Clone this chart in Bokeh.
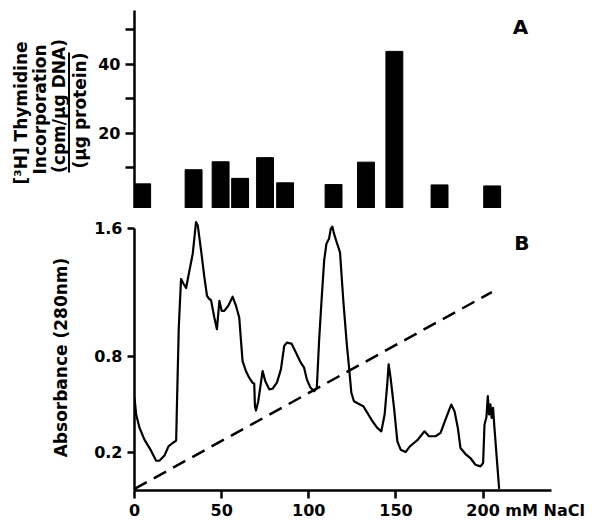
import math
from bokeh.plotting import figure
from bokeh.models import Range1d, FixedTicker, Label
from bokeh.layouts import column, row
from bokeh.core.properties import value
from bokeh.embed import file_html
from bokeh.resources import INLINE

FONT = "DejaVu Sans"

# ---- Panel A: [3H] thymidine incorporation per fraction ----
frac_nacl = [4.4, 33.9, 49.4, 60.6, 74.9, 86.4, 114.2, 132.8, 149.1, 175.0, 205.2]
thymidine = [5.4, 9.5, 11.8, 7.0, 13.0, 5.7, 5.2, 11.7, 43.8, 5.1, 4.8]
a_major_ticks = [20, 40]
a_minor_ticks = [10, 30, 50]

# ---- Panel B: absorbance (280 nm) elution profile ----
nacl_mm = [0, 0.95, 2.9, 5.7, 9.5, 12.4, 14.3, 17.2, 19.5, 21.9, 23.9, 24.4, 25.4, 26.7,
           28.2, 29.6, 31.5, 33.4, 35.3, 36.3, 38.2, 40.1, 41.6, 42.9, 43.9, 45.8, 47.3,
           48.7, 50.0, 51.5, 53.8, 56.3, 58.2, 60.1, 61.1, 62.0, 63.9, 65.8, 67.7, 68.7,
           69.1, 69.7, 71.0, 73.5, 75.0, 77.3, 79.2, 81.7, 84.0, 85.9, 87.4, 90.1, 92.6,
           95.4, 97.3, 98.9, 100.8, 103.1, 104.6, 105.9, 107.3, 108.8, 110.1, 111.6, 112.6,
           113.5, 114.5, 116.0, 117.9, 119.8, 121.8, 123.1, 124.4, 125.9, 128.2, 131.3,
           133.6, 136.5, 139.3, 141.6, 143.5, 145.0, 145.8, 146.9, 148.9, 150.8, 152.7,
           155.5, 158.0, 160.3, 162.6, 164.1, 166.4, 168.9, 172.7, 175.6, 178.4, 181.7,
           183.6, 185.5, 187.0, 189.9, 192.7, 195.6, 198.5, 200.0, 200.8, 201.9, 202.7,
           203.4, 204.2, 204.9, 205.7, 206.5, 209.2]
absorbance = [0.54, 0.435, 0.351, 0.278, 0.209, 0.146, 0.146, 0.179, 0.236, 0.257, 0.272,
              0.518, 0.979, 1.282, 1.251, 1.226, 1.334, 1.439, 1.638, 1.617, 1.460, 1.292,
              1.177, 1.157, 1.150, 1.041, 0.968, 1.146, 1.083, 1.083, 1.115, 1.171, 1.115,
              1.041, 0.895, 0.769, 0.707, 0.665, 0.634, 0.627, 0.487, 0.460, 0.518, 0.707,
              0.644, 0.592, 0.596, 0.634, 0.717, 0.864, 0.884, 0.878, 0.822, 0.759,
              0.728, 0.654, 0.606, 0.581, 0.602, 0.895, 1.146, 1.397, 1.502, 1.533, 1.596,
              1.610, 1.564, 1.512, 1.449, 1.146, 0.874, 0.728, 0.571, 0.518, 0.504, 0.487,
              0.445, 0.393, 0.351, 0.330, 0.435, 0.623, 0.749, 0.665, 0.477, 0.267, 0.215,
              0.200, 0.236, 0.257, 0.278, 0.299, 0.330, 0.299, 0.299, 0.320, 0.403, 0.497,
              0.456, 0.351, 0.226, 0.188, 0.163, 0.121, 0.111, 0.132, 0.372, 0.418, 0.550,
              0.435, 0.498, 0.414, 0.477, 0.351, -0.030]
gradient_nacl = [0, 205]
gradient_level = [-0.03, 1.2]
b_yticks = [0.2, 0.8, 1.6]
b_xticks = [0, 50, 100, 150, 200]
x_unit_text = "mM NaCl"

# ---- texts of the left margin ----
a_ylabel_lines = ["[³H] Thymidine", "Incorporation", "(cpm/µg DNA)", "(µg protein)"]
b_ylabel = "Absorbance (280nm)"

X_END = 244.4
BAR_BASE = -1.74
UNIT_LABEL_POS = 224.4   # where the "200 mM NaCl" label is centred


def style_axis(ax, tick_out, standoff):
    ax.axis_line_width = 2.5
    ax.axis_line_color = "black"
    ax.major_tick_line_width = 2.5
    ax.minor_tick_line_width = 2.5
    ax.major_tick_line_color = "black"
    ax.minor_tick_line_color = "black"
    ax.major_tick_in = 0
    ax.minor_tick_in = 0
    ax.major_tick_out = tick_out
    ax.minor_tick_out = tick_out
    ax.major_label_text_font = FONT
    ax.major_label_text_font_style = "bold"
    ax.major_label_text_font_size = "16px"
    ax.major_label_text_color = "black"
    ax.major_label_standoff = standoff


def bare(fig):
    fig.grid.visible = False
    fig.outline_line_color = None
    fig.background_fill_color = "white"
    fig.border_fill_color = "white"


# ---------------- left text column ----------------
HL_W, HL_H = 91, 522
helper = figure(width=HL_W, height=HL_H, x_range=Range1d(0, HL_W), y_range=Range1d(0, HL_H),
                output_backend="svg", toolbar_location=None, x_axis_location=None,
                y_axis_location=None, title_location=None, min_border=0)
bare(helper)
helper.text(x=[20, 39, 58, 79], y=[HL_H - 112.5, HL_H - 109, HL_H - 105.5, HL_H - 110],
            text=a_ylabel_lines, angle=math.pi / 2, text_align="center", text_baseline="middle",
            text_font=value(FONT), text_font_style="bold", text_font_size="17px", text_color="black")
helper.segment(x0=[68.5], y0=[HL_H - 52], x1=[68.5], y1=[HL_H - 172], line_width=2, color="black")
helper.text(x=[60], y=[HL_H - 357], text=[b_ylabel], angle=math.pi / 2, text_align="center",
            text_baseline="middle", text_font=value(FONT), text_font_style="bold",
            text_font_size="17px", text_color="black")

# ---------------- top panel ----------------
p1 = figure(width=509, height=208, x_range=Range1d(0, X_END), y_range=Range1d(BAR_BASE, 55.65),
            output_backend="svg", toolbar_location=None, x_axis_location=None, title_location=None,
            min_border_left=42, min_border_right=40, min_border_top=10, min_border_bottom=0)
bare(p1)
p1.vbar(x=frac_nacl, top=thymidine, bottom=BAR_BASE, width=9.7, color="black")
p1.yaxis.ticker = FixedTicker(ticks=a_major_ticks, minor_ticks=a_minor_ticks)
style_axis(p1.yaxis[0], 9, 5)
p1.add_layout(Label(x=221.4, y=51.0, text="A", text_align="center", text_baseline="middle",
                    text_font=FONT, text_font_style="bold", text_font_size="20px",
                    text_color="black"))

# ---------------- bottom panel ----------------
p2 = figure(width=509, height=314, x_range=Range1d(0, X_END), y_range=Range1d(-0.040, 1.679),
            output_backend="svg", toolbar_location=None, title_location=None,
            min_border_left=42, min_border_right=40, min_border_top=7, min_border_bottom=32)
bare(p2)
p2.line(nacl_mm, absorbance, line_width=2.2, color="black", line_join="round")
p2.line(gradient_nacl, gradient_level, line_width=2.5, color="black", line_dash="14 8")

p2.yaxis.ticker = FixedTicker(ticks=b_yticks, minor_ticks=[])
p2.yaxis.bounds = (-0.040, 1.6)
style_axis(p2.yaxis[0], 7, 5)

# tick marks at 0..200 drawn as (unlabelled) minor ticks; labels carried by major ticks,
# the last one holding "200 mM NaCl"
label_pos = b_xticks[:-1] + [UNIT_LABEL_POS]
p2.xaxis.ticker = FixedTicker(ticks=label_pos, minor_ticks=b_xticks)
p2.xaxis.bounds = (0, 239)
style_axis(p2.xaxis[0], 8, 2)
p2.xaxis.major_tick_out = 0
p2.xaxis.major_tick_line_color = None
p2.xaxis.major_label_overrides = {UNIT_LABEL_POS: f"{b_xticks[-1]} {x_unit_text}"}

p2.add_layout(Label(x=222.2, y=1.504, text="B", text_align="center", text_baseline="middle",
                    text_font=FONT, text_font_style="bold", text_font_size="20px",
                    text_color="black"))

layout = row(helper, column(p1, p2))
open("out.html", "w").write(file_html(layout, INLINE))
